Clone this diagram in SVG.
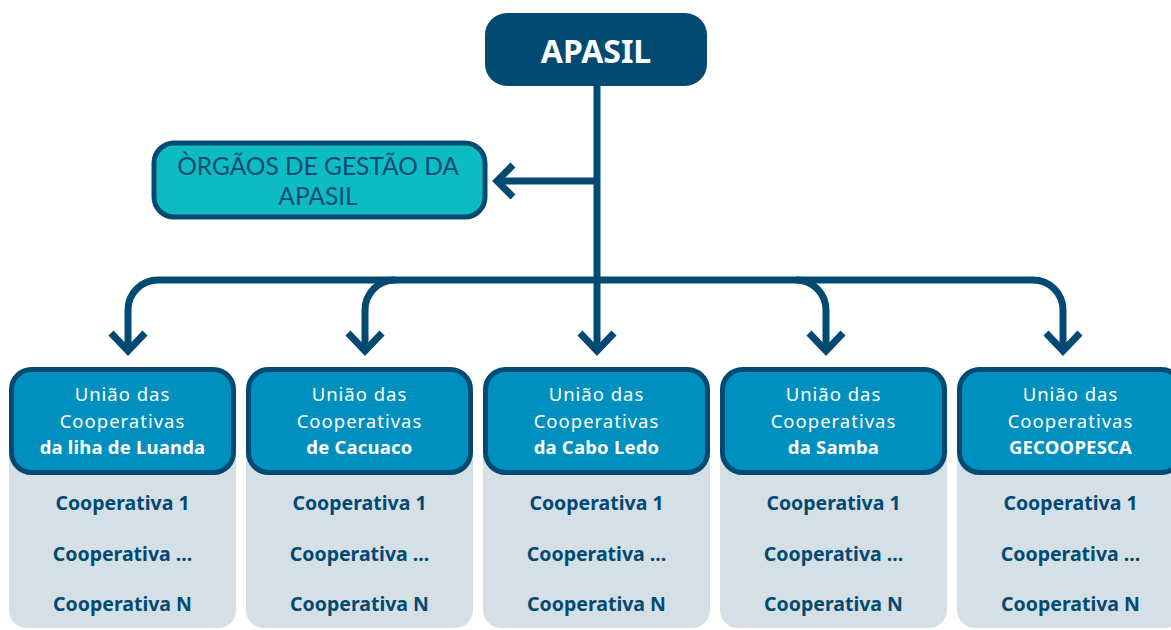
<svg xmlns="http://www.w3.org/2000/svg" width="1171" height="630" viewBox="0 0 1171 630">
<style>
.con{fill:none;stroke:#034a72;stroke-width:7;stroke-linejoin:miter}
.body{fill:#d5dfe6}
.head{fill:#0090c0;stroke:#034a72;stroke-width:5}
.ht{font-family:"Noto Sans",Lato,sans-serif;font-size:18.5px;fill:#ffffff;text-anchor:middle;letter-spacing:1px}
.hb{font-weight:bold;letter-spacing:0.2px}
.ct{font-family:"Noto Sans",Lato,sans-serif;font-size:19.5px;font-weight:bold;fill:#034a72;text-anchor:middle}
</style>
<rect width="1171" height="630" fill="#ffffff"/>
<g id="connectors">
<path class="con" d="M597 86 V352"/>
<path class="con" d="M597 181 H497"/>
<path class="con" d="M513 165 L497 181 L513 197"/>
<path class="con" d="M158 280 H1033"/>
<path class="con" d="M128 351 V310 A30 30 0 0 1 158 280"/>
<path class="con" d="M365 351 V310 A30 30 0 0 1 395 280"/>
<path class="con" d="M826 351 V310 A30 30 0 0 0 796 280"/>
<path class="con" d="M1063 351 V310 A30 30 0 0 0 1033 280"/>
<path class="con" d="M111 333 L128 351 L145 333"/>
<path class="con" d="M348 333 L365 351 L382 333"/>
<path class="con" d="M580 333 L597 351 L614 333"/>
<path class="con" d="M809 333 L826 351 L843 333"/>
<path class="con" d="M1046 333 L1063 351 L1080 333"/>
</g>
<g id="apasil">
<rect x="485" y="13" width="222" height="73" rx="22" fill="#034a72"/>
<text x="596" y="63" font-family="'Noto Sans',Lato,sans-serif" font-size="32" font-weight="bold" fill="#ffffff" text-anchor="middle">APASIL</text>
</g>
<g id="orgaos">
<rect x="154" y="143" width="331" height="74" rx="20" fill="#0dbcc3" stroke="#034a72" stroke-width="5"/>
<text font-family="Lato,'Noto Sans',sans-serif" font-size="24.5" fill="#0b4a72" text-anchor="middle"><tspan x="318" y="175">ÒRGÃOS DE GESTÃO DA</tspan><tspan x="318" y="205">APASIL</tspan></text>
</g>
<g id="uniao-luanda">
<rect class="body" x="9" y="420" width="227" height="208" rx="18"/>
<rect class="head" x="11.5" y="369.5" width="222" height="103" rx="20"/>
<text class="ht"><tspan x="122.5" y="401">União das</tspan><tspan x="122.5" y="428">Cooperativas</tspan><tspan class="hb" x="122.5" y="454">da liha de Luanda</tspan></text>
<text class="ct"><tspan x="122.5" y="510">Cooperativa 1</tspan><tspan x="122.5" y="561">Cooperativa ...</tspan><tspan x="122.5" y="611">Cooperativa N</tspan></text>
</g>
<g id="uniao-cacuaco">
<rect class="body" x="246" y="420" width="227" height="208" rx="18"/>
<rect class="head" x="248.5" y="369.5" width="222" height="103" rx="20"/>
<text class="ht"><tspan x="359.5" y="401">União das</tspan><tspan x="359.5" y="428">Cooperativas</tspan><tspan class="hb" x="359.5" y="454">de Cacuaco</tspan></text>
<text class="ct"><tspan x="359.5" y="510">Cooperativa 1</tspan><tspan x="359.5" y="561">Cooperativa ...</tspan><tspan x="359.5" y="611">Cooperativa N</tspan></text>
</g>
<g id="uniao-cabo-ledo">
<rect class="body" x="483" y="420" width="227" height="208" rx="18"/>
<rect class="head" x="485.5" y="369.5" width="222" height="103" rx="20"/>
<text class="ht"><tspan x="596.5" y="401">União das</tspan><tspan x="596.5" y="428">Cooperativas</tspan><tspan class="hb" x="596.5" y="454">da Cabo Ledo</tspan></text>
<text class="ct"><tspan x="596.5" y="510">Cooperativa 1</tspan><tspan x="596.5" y="561">Cooperativa ...</tspan><tspan x="596.5" y="611">Cooperativa N</tspan></text>
</g>
<g id="uniao-samba">
<rect class="body" x="720" y="420" width="227" height="208" rx="18"/>
<rect class="head" x="722.5" y="369.5" width="222" height="103" rx="20"/>
<text class="ht"><tspan x="833.5" y="401">União das</tspan><tspan x="833.5" y="428">Cooperativas</tspan><tspan class="hb" x="833.5" y="454">da Samba</tspan></text>
<text class="ct"><tspan x="833.5" y="510">Cooperativa 1</tspan><tspan x="833.5" y="561">Cooperativa ...</tspan><tspan x="833.5" y="611">Cooperativa N</tspan></text>
</g>
<g id="uniao-gecoopesca">
<rect class="body" x="957" y="420" width="227" height="208" rx="18"/>
<rect class="head" x="959.5" y="369.5" width="222" height="103" rx="20"/>
<text class="ht"><tspan x="1070.5" y="401">União das</tspan><tspan x="1070.5" y="428">Cooperativas</tspan><tspan class="hb" x="1070.5" y="454">GECOOPESCA</tspan></text>
<text class="ct"><tspan x="1070.5" y="510">Cooperativa 1</tspan><tspan x="1070.5" y="561">Cooperativa ...</tspan><tspan x="1070.5" y="611">Cooperativa N</tspan></text>
</g>
</svg>
